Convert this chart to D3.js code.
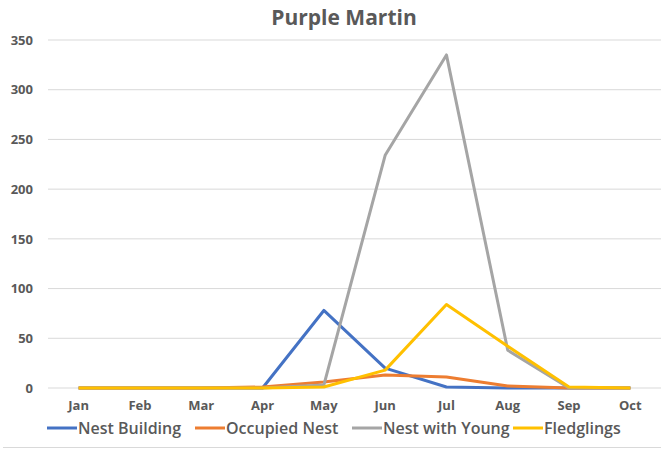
<!DOCTYPE html>
<html>
<head>
<meta charset="utf-8">
<script src="https://cdn.jsdelivr.net/npm/d3@7"></script>
<style>
  body { margin: 0; background: #fff; }
  svg { display: block; font-family: "Open Sans", "Liberation Sans", sans-serif; }
</style>
</head>
<body>
<svg width="664" height="449"></svg>
<script>
var months = ["Jan", "Feb", "Mar", "Apr", "May", "Jun", "Jul", "Aug", "Sep", "Oct"];
var yTicks = [0, 50, 100, 150, 200, 250, 300, 350];

var nestBuilding = [0, 0, 0, 0, 78, 20, 1, 0, 0, 0];
var occupiedNest = [0, 0, 0, 1, 6, 13, 11, 2, 0, 0];
var nestWithYoung = [0, 0, 0, 0, 3, 234, 335, 38, 0, 0];
var fledglings = [0, 0, 0, 0, 1, 18, 84, 42, 1, 0];

var seriesNames = ["Nest Building", "Occupied Nest", "Nest with Young", "Fledglings"];
var seriesColors = ["#4472c4", "#ed7d31", "#a5a5a5", "#ffc000"];
var seriesValues = [nestBuilding, occupiedNest, nestWithYoung, fledglings];

var margin = {top: 40, right: 3, bottom: 61, left: 48},
    width = 664 - margin.left - margin.right,
    height = 449 - margin.top - margin.bottom;

var svg = d3.select("svg");

var xScale = d3.scaleBand().domain(months).range([margin.left, margin.left + width]);
var yScale = d3.scaleLinear().domain([0, 350]).range([margin.top + height, margin.top]);

svg.append("text")
    .attr("x", 344).attr("y", 25)
    .attr("text-anchor", "middle")
    .attr("font-size", 21).attr("font-weight", 700)
    .attr("fill", "#595959")
    .text("Purple Martin");

// gridlines
svg.append("g")
    .selectAll("line")
    .data(yTicks).enter().append("line")
    .attr("x1", margin.left).attr("x2", margin.left + width)
    .attr("y1", function (d) { return yScale(d); })
    .attr("y2", function (d) { return yScale(d); })
    .attr("stroke", "#d9d9d9").attr("stroke-width", 1);

var yAxis = svg.append("g")
    .attr("transform", "translate(" + (margin.left - 15) + ",0)")
    .call(d3.axisLeft(yScale).tickValues(yTicks).tickSize(0).tickPadding(0));
yAxis.select(".domain").remove();
yAxis.selectAll("text")
    .attr("font-size", 13).attr("font-weight", 700)
    .attr("fill", "#595959")
    .attr("font-family", "Open Sans, sans-serif");

var xAxis = svg.append("g")
    .attr("transform", "translate(0," + (margin.top + height + 13) + ")")
    .call(d3.axisBottom(xScale).tickSize(0).tickPadding(0));
xAxis.select(".domain").remove();
xAxis.selectAll("text")
    .attr("font-size", 13).attr("font-weight", 700)
    .attr("fill", "#595959")
    .attr("font-family", "Open Sans, sans-serif");

var line = d3.line()
    .x(function (d, i) { return xScale(months[i]) + xScale.bandwidth() / 2; })
    .y(function (d) { return yScale(d); });

seriesValues.forEach(function (vals, k) {
    svg.append("path")
        .datum(vals)
        .attr("d", line)
        .attr("fill", "none")
        .attr("stroke", seriesColors[k])
        .attr("stroke-width", 3)
        .attr("stroke-linejoin", "round");
});

// legend
var legendX = [47, 195, 352, 513];
var legend = svg.append("g");
seriesNames.forEach(function (name, k) {
    var g = legend.append("g").attr("transform", "translate(" + legendX[k] + ",428)");
    g.append("line")
        .attr("x1", 0).attr("x2", 30)
        .attr("y1", 0).attr("y2", 0)
        .attr("stroke", seriesColors[k]).attr("stroke-width", 3);
    g.append("text")
        .attr("x", 31).attr("y", 6)
        .attr("font-size", 16).attr("font-weight", 600)
        .attr("fill", "#595959")
        .text(name);
});

svg.append("line")
    .attr("x1", 3).attr("x2", 661)
    .attr("y1", 447.5).attr("y2", 447.5)
    .attr("stroke", "#d9d9d9");
</script>
</body>
</html>
